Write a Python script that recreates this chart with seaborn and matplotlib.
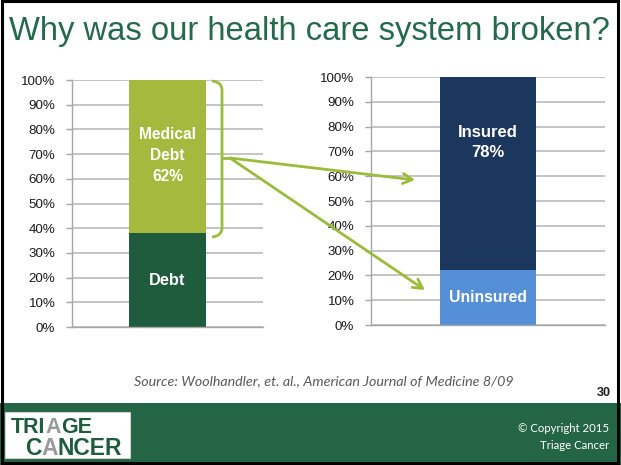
import matplotlib
matplotlib.use("Agg")
import matplotlib.pyplot as plt
import seaborn as sns
import pandas as pd
from matplotlib.path import Path
from matplotlib.patches import PathPatch, Rectangle
from matplotlib.ticker import FuncFormatter

# ---------------- data ----------------
left_categories = ["Debt", "Medical Debt"]
left_values = [38, 62]
right_categories = ["Uninsured", "Insured"]
right_values = [22, 78]
y_ticks = [0, 10, 20, 30, 40, 50, 60, 70, 80, 90, 100]

title = "Why was our health care system broken?"
source = "Source: Woolhandler, et. al., American Journal of Medicine 8/09"
page_no = "30"

# ---------------- style ----------------
sns.set_theme(style="white")
plt.rcParams['font.family'] = ['Liberation Sans', 'DejaVu Sans']

GREEN_TITLE = "#24694A"
FOOTER = "#246545"
LIGHT_GREEN = "#A5B93E"
DARK_GREEN = "#1F5B3D"
NAVY = "#1B375D"
LIGHT_BLUE = "#5590D6"
ARROW = "#9CBB3C"
GRID = "#BFBFBF"

W, H = 621, 465
fig = plt.figure(figsize=(W / 100, H / 100), dpi=100)
fig.patch.set_facecolor("white")


def px_axes(x0, y_top, x1, y_bot):
    return fig.add_axes([x0 / W, 1 - y_bot / H, (x1 - x0) / W, (y_bot - y_top) / H])


def style_axis(ax):
    ax.set_ylim(0, 100)
    ax.set_xlim(-0.5, 0.5)
    ax.set_yticks(y_ticks)
    ax.yaxis.set_major_formatter(FuncFormatter(lambda v, p: f"{v:.0f}%"))
    ax.grid(axis="y", color=GRID, linewidth=1.3)
    ax.set_axisbelow(True)
    for s in ["top", "right"]:
        ax.spines[s].set_visible(False)
    for s in ["left", "bottom"]:
        ax.spines[s].set_color("#A6A6A6")
        ax.spines[s].set_linewidth(1.0)
    ax.tick_params(axis="y", length=4, width=1, color="#A6A6A6", pad=8,
                   labelsize=9.6, labelcolor="#1a1a1a", left=True)
    ax.set_xticks([])
    ax.set_xlabel("")
    ax.set_ylabel("")
    ax.set_facecolor("none")


def stacked(ax, cats, vals, colors, width):
    cum = []
    t = 0
    for v in vals:
        t += v
        cum.append(t)
    # draw from top of stack down so lower segments sit on top
    for c, top, col in reversed(list(zip(cats, cum, colors))):
        df = pd.DataFrame({"g": ["bar"], "v": [top]})
        sns.barplot(data=df, x="g", y="v", color=col, saturation=1,
                    width=width, ax=ax, errorbar=None, linewidth=0)
    return cum


# left chart
axL = px_axes(72, 80, 263, 327)
cumL = stacked(axL, left_categories, left_values, [DARK_GREEN, LIGHT_GREEN], 0.40)
style_axis(axL)
axL.text(0, left_values[0] / 2, "Debt", color="white", fontsize=11.8,
         fontweight="bold", ha="center", va="center")
axL.text(0, left_values[0] + left_values[1] / 2 + 0.5, "Medical\nDebt\n62%", color="white",
         fontsize=11.2, fontweight="bold", ha="center", va="center", linespacing=1.5)

# right chart
axR = px_axes(371, 77, 605, 325)
cumR = stacked(axR, right_categories, right_values, [LIGHT_BLUE, NAVY], 0.41)
style_axis(axR)
axR.text(0, right_values[0] / 2, "Uninsured", color="white", fontsize=11.3,
         fontweight="bold", ha="center", va="center")
axR.text(0, 73.5, "Insured\n78%", color="white", fontsize=12,
         fontweight="bold", ha="center", va="center", linespacing=1.4)

# ---------------- overlay (pixel coords) ----------------
ov = fig.add_axes([0, 0, 1, 1], zorder=10)
ov.set_xlim(0, W)
ov.set_ylim(H, 0)
ov.axis("off")
ov.patch.set_alpha(0)

# title
ov.text(9, 40, title, color=GREEN_TITLE, fontsize=23.6, ha="left", va="baseline")

# bracket
ov.add_patch(PathPatch(Path([(212, 81), (222, 82), (222, 90), (222, 228), (222, 236), (212, 237)],
                            [Path.MOVETO, Path.CURVE3, Path.CURVE3, Path.LINETO, Path.CURVE3, Path.CURVE3]),
                       fill=False, edgecolor=ARROW, linewidth=2.0, capstyle="butt"))
ov.plot([222, 231], [158, 158], color=ARROW, linewidth=2.0, solid_capstyle="butt")

# arrows
for tip in [(415, 180), (425, 290)]:
    ov.annotate("", xy=tip, xytext=(230, 158),
                arrowprops=dict(arrowstyle="->,head_length=0.55,head_width=0.3",
                                color=ARROW, lw=2.0, shrinkA=0, shrinkB=0))

# source and page number
ov.text(324, 385, source, color="#595959", fontsize=10.3, style="italic",
        family=["Lato", "DejaVu Sans"], ha="center", va="baseline")
ov.text(611, 396, page_no, color="#1a1a1a", fontsize=9, fontweight="bold",
        ha="right", va="baseline")

# footer band
ov.add_patch(Rectangle((0, 403), W, 62, facecolor=FOOTER, edgecolor="none"))
ov.text(609, 432, "\u00a9 Copyright 2015", color="white", fontsize=8.2,
        family=["Lato", "DejaVu Sans"], ha="right", va="baseline")
ov.text(609, 449, "Triage Cancer", color="white", fontsize=8.2,
        family=["Lato", "DejaVu Sans"], ha="right", va="baseline")

# logo
ov.add_patch(Rectangle((5, 412), 125, 46, facecolor="white", edgecolor="#d0d0d0", linewidth=0.8))
fig.canvas.draw()
renderer = fig.canvas.get_renderer()


def word(x, y, parts, size):
    for txt, col in parts:
        t = ov.text(x, y, txt, color=col, fontsize=size, fontweight="bold",
                    ha="left", va="baseline")
        bb = t.get_window_extent(renderer=renderer)
        x += bb.width
    return x


word(11, 433, [("TRI", DARK_GREEN), ("A", "#9a9a9a"), ("GE", DARK_GREEN)], 15.5)
word(25, 455, [("C", DARK_GREEN), ("A", "#9a9a9a"), ("NCER", DARK_GREEN)], 16.5)

# slide border
ov.add_patch(Rectangle((1.5, 1.5), W - 4.5, H - 4, fill=False, edgecolor="black", linewidth=2.2))

fig.savefig("out.png", dpi=100)
